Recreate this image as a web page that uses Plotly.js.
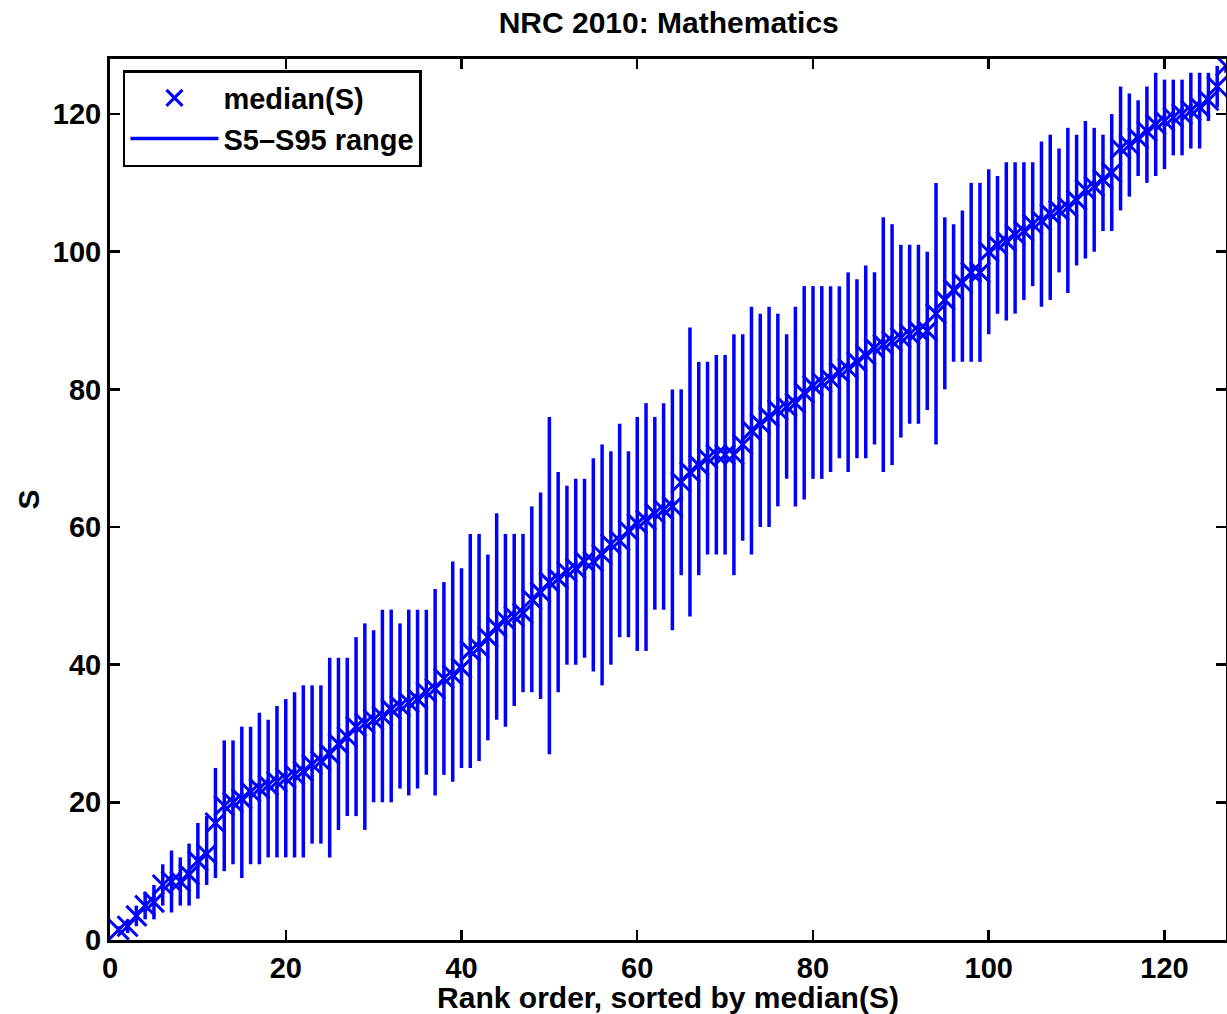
<!DOCTYPE html>
<html>
<head>
<meta charset="utf-8">
<script src="https://cdn.plot.ly/plotly-3.0.1.min.js"></script>
<style>
html,body{margin:0;padding:0;background:#fff;}
#chart{width:1227px;height:1014px;}
</style>
</head>
<body>
<div id="chart"></div>
<script>
// Rank order (x)
const rank = [1,2,3,4,5,6,7,8,9,10,11,12,13,14,15,16,17,18,19,20,
  21,22,23,24,25,26,27,28,29,30,31,32,33,34,35,36,37,38,39,40,
  41,42,43,44,45,46,47,48,49,50,51,52,53,54,55,56,57,58,59,60,
  61,62,63,64,65,66,67,68,69,70,71,72,73,74,75,76,77,78,79,80,
  81,82,83,84,85,86,87,88,89,90,91,92,93,94,95,96,97,98,99,100,
  101,102,103,104,105,106,107,108,109,110,111,112,113,114,115,116,117,118,119,120,
  121,122,123,124,125,126,127];

// median(S)
const medianS = [1.5,2,3.5,5,5.5,8,8.5,8.5,9.5,11.5,12.5,17,19.5,20,20.5,21.5,22,22.5,23,23.5,
  24,24.5,25.5,26,27,28.5,29.5,31,31.5,32,32.5,33.5,34,34.5,35,36,36.5,38,38.5,39.5,
  42,42.5,44,45.5,46.5,47,47.5,49.5,50.5,52,52.5,53.5,54,55,55,56,57.5,58,59.5,60.5,
  61,62,62.5,63,66.5,68,69,70,70.5,70.5,70.5,72,74,75,76,77,77.5,78,79.5,80.5,
  81,81.5,82.5,83,84,85,86,86.5,87,87.5,88,88.5,88.5,91,93,94.5,95.5,97,97,100,
  101,101.5,102.5,103,104,104.5,105.5,106,106.5,107.5,109,109.5,110.5,111.5,115,115.5,116.5,117.5,118.5,119,
  119.5,120,120.5,121,122,124,127];

// S5 (lower end of range)
const s5 = [1,1,2,3,3,5,4,5,5,6,8,9,10,11,9,11,11,12,12,12,
  12,12,14,14,12,16,18,18,16,20,20,20,22,21,22,24,21,24,23,25,
  25,26,29,32,31,34,36,36,35,27,36,40,40,41,39,37,40,44,44,42,
  42,48,48,45,53,47,53,56,56,56,53,58,56,60,60,63,67,63,64,67,
  67,68,70,68,70,70,72,68,69,73,75,75,77,72,80,84,84,84,84,88,
  91,90,91,93,95,92,93,97,94,98,99,100,103,103,106,108,111,110,111,112,
  114,114,115,115,119,121,126];

// S95 (upper end of range)
const s95 = [2,3,5,7,8,11,13,12,14,17,18,25,29,29,31,31,33,32,34,35,
  36,37,37,37,41,41,41,44,46,45,48,48,46,48,48,48,51,52,55,54,
  59,59,56,62,59,59,59,63,65,76,68,66,67,67,70,72,71,75,71,76,
  78,76,78,80,80,89,84,84,85,85,88,88,92,91,92,91,88,92,95,95,
  95,95,95,97,96,98,97,105,104,101,101,101,100,110,105,104,106,110,110,112,
  111,113,113,113,113,116,117,115,118,117,119,118,117,120,124,123,122,124,126,125,
  125,125,126,126,126,127,127];

// Build the range segments (x: rank, y: S5..S95, separated by gaps)
const rx = [], ry = [];
for (let i = 0; i < rank.length; i++) {
  rx.push(rank[i], rank[i], null);
  ry.push(s5[i], s95[i], null);
}

const BLUE = '#0000ff';
const FONT = 'Liberation Sans, Arial, Helvetica, sans-serif';

const traces = [
  {
    type: 'scatter', mode: 'markers', name: 'median(S)',
    x: rank, y: medianS,
    marker: {symbol: 'x-thin-open', size: 20, color: BLUE, line: {color: BLUE, width: 3}},
    cliponaxis: true
  },
  {
    type: 'scatter', mode: 'lines', name: 'S5\u2013S95 range',
    x: rx, y: ry, connectgaps: false,
    line: {color: BLUE, width: 3.5}
  }
];

const axisCommon = {
  showline: true, linecolor: '#000', linewidth: 3, mirror: 'allticks',
  ticks: 'inside', ticklen: 10, tickwidth: 2.5, tickcolor: '#000',
  showgrid: false, zeroline: false,
  tickfont: {family: FONT, size: 29, color: '#000', weight: 'bold'}
};

const layout = {
  width: 1227, height: 1014,
  paper_bgcolor: '#fff', plot_bgcolor: '#fff',
  margin: {l: 110, r: 1, t: 59, b: 74},
  showlegend: true,
  title: {
    text: 'NRC 2010: Mathematics',
    font: {family: FONT, size: 30, color: '#000', weight: 'bold'},
    x: 0.545, xref: 'container', xanchor: 'center',
    y: 0.978, yref: 'container', yanchor: 'middle'
  },
  xaxis: Object.assign({}, axisCommon, {
    range: [0, 127], tickvals: [0,20,40,60,80,100,120],
    title: {text: 'Rank order, sorted by median(S)', standoff: 4,
      font: {family: FONT, size: 30, color: '#000', weight: 'bold'}}
  }),
  yaxis: Object.assign({}, axisCommon, {
    range: [0, 128], tickvals: [0,20,40,60,80,100,120],
    title: {text: 'S', standoff: 5,
      font: {family: FONT, size: 30, color: '#000', weight: 'bold'}}
  }),
  legend: {
    x: 0.0116, y: 0.9875, xanchor: 'left', yanchor: 'top',
    bgcolor: '#fff', bordercolor: '#000', borderwidth: 2.5,
    font: {family: FONT, size: 29, color: '#000', weight: 'bold'},
    itemwidth: 88, tracegroupgap: 0
  }
};

Plotly.newPlot('chart', traces, layout, {displayModeBar: false, staticPlot: true});
</script>
</body>
</html>
